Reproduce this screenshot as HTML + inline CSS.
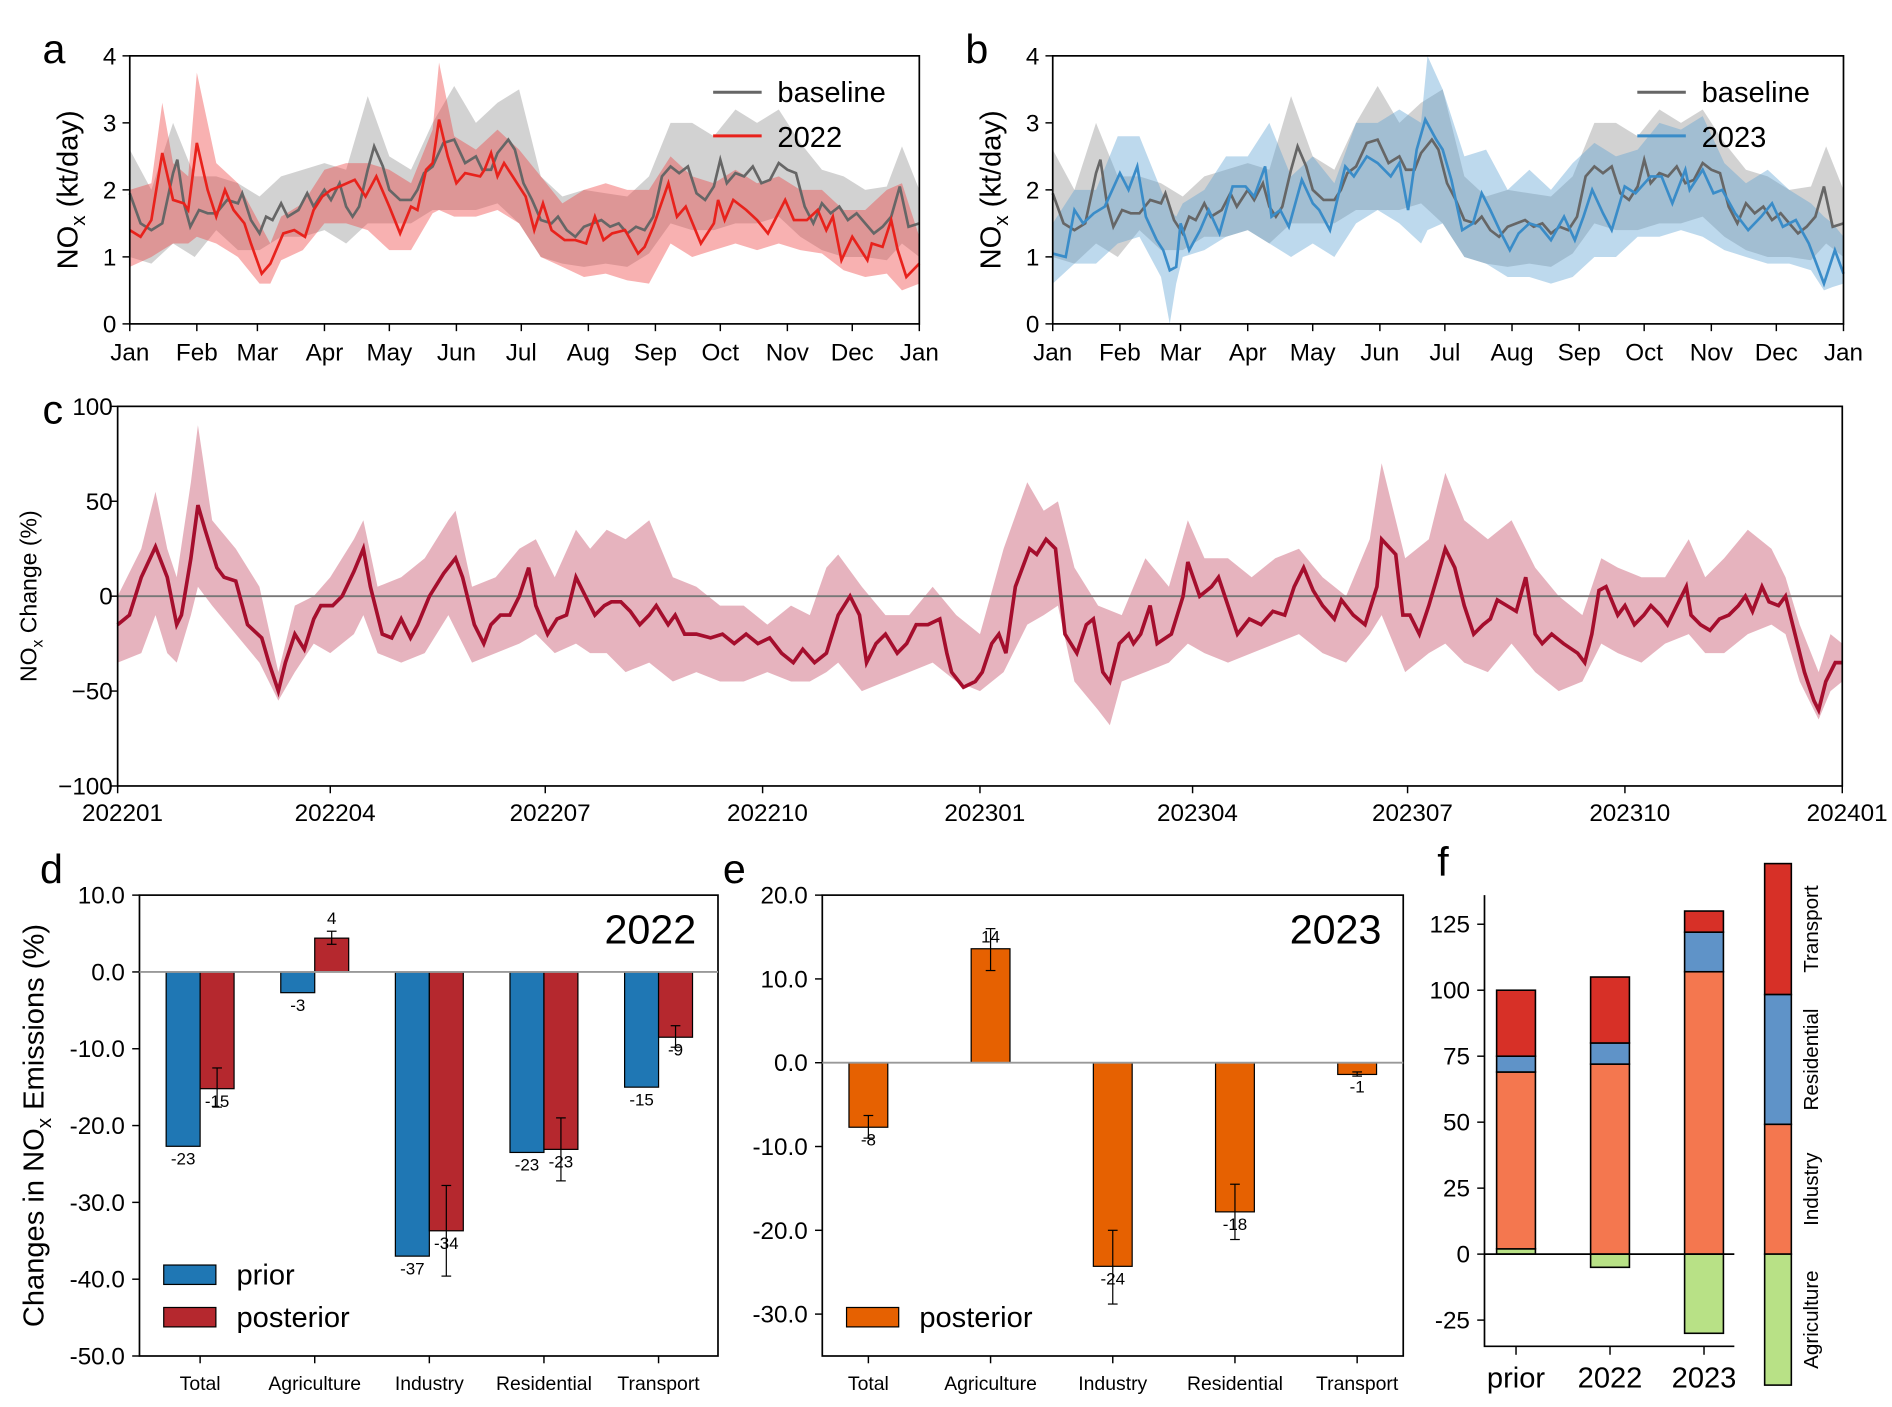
<!DOCTYPE html>
<html><head><meta charset="utf-8"><style>
html,body{margin:0;padding:0;background:#fff}
svg{display:block;font-family:"Liberation Sans",Arial,sans-serif}
</style></head><body>
<svg id="fig" width="1892" height="1407" viewBox="0 0 1560 1160" xmlns="http://www.w3.org/2000/svg">
<rect x="0" y="0" width="1560" height="1160" fill="#fff"/>
<g id="root"></g>
</svg>
<script>
// ---------- Panel a/b data (day of year, NOx kt/day) ----------
const baseDays=[0,5,10,15,20,22,25,28,32,36,40,45,50,52,56,60,63,66,70,73,78,82,85,90,93,97,100,103,106,110,113,117,120,125,130,133,136,140,145,150,155,160,163,167,170,175,178,182,186,190,195,198,202,206,210,214,218,222,226,230,234,238,242,246,250,254,258,262,266,270,273,276,280,284,288,292,296,300,304,308,312,316,320,324,328,332,336,340,344,348,352,356,360,365];
const baseVal=[1.95,1.5,1.4,1.5,2.25,2.45,1.8,1.45,1.7,1.65,1.65,1.85,1.8,1.95,1.55,1.35,1.6,1.55,1.8,1.6,1.7,1.95,1.75,2.0,1.85,2.1,1.75,1.6,1.75,2.3,2.65,2.35,2.0,1.85,1.85,2.0,2.25,2.35,2.7,2.75,2.4,2.5,2.3,2.3,2.55,2.75,2.6,2.1,1.85,1.55,1.5,1.6,1.4,1.3,1.45,1.5,1.55,1.45,1.5,1.35,1.45,1.4,1.6,2.2,2.35,2.25,2.35,1.95,1.85,2.05,2.45,2.1,2.25,2.2,2.35,2.1,2.15,2.4,2.3,2.25,1.75,1.5,1.8,1.65,1.75,1.55,1.65,1.5,1.35,1.45,1.6,2.05,1.45,1.5];
const baseBandDays=[0,10,20,30,40,50,60,70,80,90,100,110,120,130,140,150,160,170,180,190,200,210,220,230,240,250,260,270,280,290,300,310,320,330,340,350,357,365];
const baseUpper=[2.6,2.0,3.0,2.2,2.2,2.1,1.9,2.2,2.3,2.4,2.3,3.4,2.5,2.3,3.0,3.55,3.0,3.3,3.5,2.2,1.9,2.0,1.95,1.9,2.2,3.0,3.0,2.8,3.2,3.0,3.2,2.7,2.3,2.2,2.0,2.05,2.65,2.0];
const baseLower=[1.0,0.9,1.2,1.0,1.4,1.1,1.1,1.3,1.3,1.4,1.2,1.5,1.5,1.5,1.7,1.7,1.7,1.8,1.5,1.0,0.9,0.85,0.9,0.85,1.05,1.5,1.4,1.4,1.5,1.5,1.6,1.3,1.1,1.0,1.0,0.95,1.2,1.0];
const d22Days=[0,5,10,15,20,25,27,31,36,40,44,48,53,56,61,65,71,76,81,85,89,93,97,104,109,114,120,125,130,133,137,140,143,147,151,155,162,164,167,170,173,177,183,187,191,195,201,206,211,215,219,223,229,235,238,242,249,253,257,264,270,272,275,279,285,290,295,303,307,313,318,322,325,329,334,338,341,343,348,352,355,359,365];
const d22Val=[1.4,1.3,1.55,2.55,1.85,1.8,1.7,2.7,2.0,1.6,2.0,1.7,1.5,1.2,0.75,0.9,1.35,1.4,1.3,1.7,1.9,2.0,2.05,2.15,1.9,2.2,1.75,1.35,1.75,1.7,2.3,2.4,3.05,2.5,2.1,2.25,2.2,2.3,2.55,2.2,2.4,2.2,1.9,1.4,1.8,1.4,1.25,1.25,1.2,1.6,1.25,1.35,1.4,1.05,1.15,1.45,2.1,1.6,1.75,1.2,1.5,1.85,1.55,1.85,1.7,1.55,1.35,1.85,1.55,1.55,1.7,1.4,1.6,0.95,1.3,1.1,0.95,1.2,1.15,1.55,1.1,0.7,0.9];
const d22BandDays=[0,10,15,20,27,31,40,50,60,65,70,80,90,100,110,120,130,140,143,150,160,170,180,190,200,210,220,230,240,250,260,270,280,290,300,310,320,330,340,350,357,365];
const d22Upper=[2.0,2.1,3.3,2.4,2.2,3.75,2.4,2.1,1.5,1.2,1.6,1.8,2.3,2.4,2.4,2.3,2.1,2.9,3.9,2.8,2.6,2.9,2.6,2.2,1.8,2.0,2.1,2.0,2.0,2.5,2.2,2.1,2.3,2.1,2.2,2.0,2.0,1.7,1.7,2.0,2.1,1.3];
const d22Lower=[0.85,1.0,1.1,1.2,1.2,1.3,1.2,1.0,0.6,0.6,0.95,1.1,1.5,1.5,1.4,1.1,1.1,1.65,1.7,1.6,1.6,1.7,1.5,1.0,0.85,0.7,0.75,0.65,0.6,1.2,1.0,1.1,1.2,1.1,1.2,1.1,1.05,0.8,0.7,0.75,0.5,0.6];
const d23Days=[0,6,10,14,19,24,31,35,39,43,48,51,54,57,59,63,68,72,77,83,89,93,98,101,105,109,115,120,123,128,135,139,145,150,156,160,164,168,172,177,180,184,189,194,198,202,207,211,215,220,225,230,236,241,245,249,254,258,264,269,276,281,286,292,294,300,305,309,315,321,327,332,337,343,349,356,361,365];
const d23Val=[1.05,1.0,1.7,1.5,1.65,1.75,2.25,2.0,2.35,1.6,1.25,1.1,0.8,0.85,1.5,1.1,1.4,1.7,1.35,2.05,2.05,1.9,2.35,1.6,1.7,1.45,2.15,1.8,1.7,1.4,2.35,2.2,2.5,2.4,2.2,2.4,1.7,2.6,3.05,2.75,2.6,2.15,1.4,1.5,1.95,1.7,1.35,1.1,1.35,1.5,1.45,1.25,1.6,1.25,1.6,2.0,1.65,1.4,2.05,1.95,2.2,2.2,1.8,2.3,2.0,2.3,1.95,2.0,1.65,1.4,1.6,1.8,1.45,1.55,1.2,0.6,1.1,0.75];
const d23BandDays=[0,10,20,30,40,50,54,57,60,70,80,90,100,110,120,130,140,150,160,170,173,180,190,200,210,220,230,240,250,260,270,280,290,300,310,320,330,340,350,356,360,365];
const d23Upper=[1.5,2.0,2.0,2.8,2.8,2.0,1.7,1.6,1.8,2.0,2.5,2.5,3.0,2.2,2.5,2.1,3.0,3.0,3.2,3.0,4.0,3.5,2.5,2.6,2.0,2.3,2.0,2.4,2.7,2.5,2.6,3.0,2.9,3.1,2.4,2.1,2.3,2.0,1.8,1.6,1.5,1.3];
const d23Lower=[0.6,0.9,0.9,1.2,1.3,0.7,0.0,0.6,1.0,1.1,1.3,1.4,1.2,1.0,1.2,1.0,1.5,1.7,1.5,1.2,1.4,1.5,1.0,0.9,0.7,0.7,0.6,0.7,1.0,1.0,1.3,1.3,1.4,1.3,1.1,1.0,0.9,0.9,0.8,0.5,0.55,0.6];
const monthDays=[0,31,59,90,120,151,181,212,243,273,304,334,365];
const monthLabels=["Jan","Feb","Mar","Apr","May","Jun","Jul","Aug","Sep","Oct","Nov","Dec","Jan"];
const abTicks=[0,1,2,3,4];

// ---------- Panel c data (days since 2022-01-01, % change) ----------
const cDays=[0,5,10,16,21,25,27,31,34,37,42,45,50,55,61,64,68,71,75,79,83,86,91,95,100,104,107,112,116,120,124,127,132,138,143,146,151,155,158,162,166,170,174,177,182,186,190,194,198,202,206,209,213,217,221,225,228,233,236,240,245,251,256,261,266,271,276,281,286,290,295,300,305,310,314,317,321,325,330,334,338,343,348,351,353,358,363,366,370,373,376,380,386,389,393,397,401,406,410,413,417,420,424,428,430,433,437,440,446,451,453,458,463,466,470,474,479,484,489,494,498,502,506,510,515,518,523,528,533,535,541,544,547,551,555,559,562,566,570,574,578,581,584,588,592,596,600,603,607,612,618,621,624,627,630,635,638,642,646,649,653,656,660,664,666,670,674,678,682,686,689,692,696,699,703,706,709,714,718,720,723,727,730];
const cVal=[-15,-10,10,26,10,-15,-10,20,48,35,15,10,8,-15,-22,-35,-50,-35,-20,-28,-12,-5,-5,0,13,25,5,-20,-22,-12,-22,-15,0,12,20,10,-15,-25,-15,-10,-10,0,15,-5,-20,-12,-10,10,0,-10,-5,-3,-3,-8,-15,-10,-5,-15,-10,-20,-20,-22,-20,-25,-20,-25,-22,-30,-35,-28,-35,-30,-10,0,-10,-35,-25,-20,-30,-25,-15,-15,-12,-30,-40,-48,-45,-40,-25,-20,-30,5,25,22,30,25,-20,-30,-15,-12,-40,-45,-25,-20,-25,-20,-5,-25,-20,0,18,0,5,10,-5,-20,-12,-15,-8,-10,5,15,3,-5,-12,-2,-10,-15,5,30,22,-10,-10,-20,-5,12,25,15,-5,-20,-15,-12,-2,-5,-8,10,-20,-25,-20,-25,-30,-35,-20,3,5,-10,-5,-15,-10,-5,-10,-15,-5,5,-10,-15,-18,-12,-10,-5,0,-8,5,-3,-5,0,-15,-40,-55,-60,-45,-35,-35];
const cUpDays=[0,10,16,21,25,31,34,40,50,60,68,75,83,90,100,104,110,120,130,140,143,150,160,170,177,185,194,200,207,215,225,235,245,255,265,275,285,293,300,305,315,325,335,345,355,365,375,385,392,398,405,415,425,435,445,453,460,470,480,490,500,510,520,530,535,545,555,562,570,580,590,600,610,620,628,635,645,655,665,672,680,690,700,706,712,720,725,730];
const cUpper=[0,25,55,25,10,60,90,40,25,5,-40,-5,0,10,30,40,5,10,20,40,45,5,10,25,30,10,35,25,35,30,40,10,5,-5,-5,-15,-5,-10,15,22,5,-10,-10,5,-10,-20,25,60,45,50,15,-5,-10,20,5,40,20,20,10,20,25,10,0,30,70,20,30,65,40,30,40,15,0,-10,20,15,10,10,30,10,20,35,25,10,-15,-40,-20,-25];
const cLoDays=[0,10,16,21,25,31,34,40,50,60,68,75,83,90,100,104,110,120,130,140,150,160,170,177,185,194,200,207,215,225,235,245,255,265,275,285,293,300,305,315,325,335,345,355,365,375,385,392,398,405,415,420,425,435,445,453,460,470,480,490,500,510,520,530,535,545,555,562,570,580,590,600,610,620,628,635,645,655,665,672,680,690,700,706,712,720,725,730];
const cLower=[-35,-30,-10,-30,-35,-10,5,-5,-20,-35,-55,-40,-25,-30,-20,-10,-30,-35,-30,-10,-35,-30,-25,-20,-30,-25,-30,-30,-40,-35,-45,-40,-45,-45,-40,-45,-45,-40,-35,-50,-45,-40,-35,-45,-50,-40,-15,-10,-5,-45,-60,-68,-45,-40,-35,-25,-30,-35,-30,-25,-20,-30,-35,-20,-10,-40,-30,-25,-35,-40,-25,-40,-50,-45,-25,-30,-35,-25,-20,-30,-30,-20,-15,-20,-45,-65,-50,-45];
const cTicks=[-100,-50,0,50,100];
const cTickLabels=["\u2212100","\u221250","0","50","100"];
const cXDays=[0,90,181,273,365,455,546,638,730];
const cXLabels=["202201","202204","202207","202210","202301","202304","202307","202310","202401"];

// ---------- Panel d/e/f data ----------
const sectors=["Total","Agriculture","Industry","Residential","Transport"];
const dPrior=[-22.7,-2.7,-37.0,-23.5,-15.0];
const dPost=[-15.2,4.4,-33.7,-23.1,-8.5];
const dPostLo=[-17.6,3.6,-39.6,-27.2,-9.8];
const dPostHi=[-12.5,5.3,-27.8,-19.0,-7.0];
const dPriorLabels=["-23","-3","-37","-23","-15"];
const dPostLabels=["-15","4","-34","-23","-9"];
const dTicks=[10,0,-10,-20,-30,-40,-50];
const ePost=[-7.7,13.6,-24.3,-17.8,-1.4];
const ePostLo=[-9.0,11.0,-28.8,-21.1,-1.6];
const ePostHi=[-6.3,16.0,-20.0,-14.5,-1.1];
const eLabels=["-8","14","-24","-18","-1"];
const eTicks=[20,10,0,-10,-20,-30];
const fCats=["prior","2022","2023"];
const fAgri=[2,-5,-30];
const fIndustry=[67,72,107];
const fResidential=[6,8,15];
const fTransport=[25,25,8];
const fTicks=[-25,0,25,50,75,100,125];

// ---------- helpers ----------
const NS="http://www.w3.org/2000/svg";
const root=document.getElementById('root');
function mk(tag,attrs,parent){const e=document.createElementNS(NS,tag);for(const k in attrs)e.setAttribute(k,attrs[k]);(parent||root).appendChild(e);return e;}
function lin(d0,d1,r0,r1){return v=>r0+(v-d0)*(r1-r0)/(d1-d0);}
function linePath(xs,ys,X,Y){return xs.map((d,i)=>(i?'L':'M')+X(d).toFixed(1)+','+Y(ys[i]).toFixed(1)).join('');}
function bandPath(ud,uv,ld,lv,X,Y){let p=ud.map((d,i)=>(i?'L':'M')+X(d).toFixed(1)+','+Y(uv[i]).toFixed(1)).join('');for(let i=ld.length-1;i>=0;i--)p+='L'+X(ld[i]).toFixed(1)+','+Y(lv[i]).toFixed(1);return p+'Z';}
function txt(x,y,s,size,anchor,parent){const t=mk('text',{x:x,y:y,'font-size':size,'text-anchor':anchor||'middle',fill:'#000'},parent);t.textContent=s;return t;}

// ---------- panel a & b ----------
function tsPanel(L,R,T,B,letter,lineDays,lineVal,bDays,bUp,bLo,bandFill,lineColor,yearLabel,name){
  const g=mk('g',{});
  
  
  const X=lin(0,365,L,R),Y=lin(0,4,B,T);
  const gb=mk('path',{d:bandPath(baseBandDays,baseUpper,baseBandDays,baseLower,X,Y),fill:'#b4b4b4','fill-opacity':0.6,stroke:'none'},g);
  
  
  const yb=mk('path',{d:bandPath(bDays,bUp,bDays,bLo,X,Y),fill:bandFill,'fill-opacity':0.4,stroke:'none'},g);
  
  
  const bl=mk('path',{d:linePath(baseDays,baseVal,X,Y),fill:'none',stroke:'#666','stroke-width':2.2},g);
  
  
  const yl=mk('path',{d:linePath(lineDays,lineVal,X,Y),fill:'none',stroke:lineColor,'stroke-width':2.2},g);
  
  
  const fr=mk('rect',{x:L,y:T,width:R-L,height:B-T,fill:'none',stroke:'#000','stroke-width':1.4},g);
  
  
  abTicks.forEach(v=>{mk('line',{x1:L-6,x2:L,y1:Y(v),y2:Y(v),stroke:'#000','stroke-width':1.2},g);const t=txt(L-11,Y(v)+7,String(v),20,'end',g);});
  monthDays.forEach((d,i)=>{mk('line',{x1:X(d),x2:X(d),y1:B,y2:B+6,stroke:'#000','stroke-width':1.2},g);const t=txt(X(d),B+30,monthLabels[i],20,'middle',g);});
  const yt=mk('text',{x:0,y:0,'font-size':24,'text-anchor':'middle',transform:`translate(${L-43},${(T+B)/2}) rotate(-90)`},g);
  yt.innerHTML='NO<tspan font-size="17" dy="6">x</tspan><tspan dy="-6"> (kt/day)</tspan>';
  
  
  const lt=txt(L-72,T+6,letter,34,'start',g);
  
  
  const lg=mk('g',{},g);
  
  
  mk('line',{x1:R-170,x2:R-130,y1:T+30,y2:T+30,stroke:'#666','stroke-width':2.5},lg);
  const l1=txt(R-117,T+38,'baseline',24,'start',lg);
  
  
  mk('line',{x1:R-170,x2:R-130,y1:T+66,y2:T+66,stroke:lineColor,'stroke-width':2.5},lg);
  const l2=txt(R-117,T+75,yearLabel,24,'start',lg);
  
  
}
tsPanel(107,758,46,267,'a',d22Days,d22Val,d22BandDays,d22Upper,d22Lower,'#ee3b3b','#e8221c','2022','panel-a-2022-timeseries');
tsPanel(868,1520,46,267,'b',d23Days,d23Val,d23BandDays,d23Upper,d23Lower,'#5aa0d2','#3a8cc8','2023','panel-b-2023-timeseries');

// ---------- panel c ----------
(function(){
  const L=97,R=1519,T=335,B=648;
  const g=mk('g',{});
  
  
  const X=lin(0,730,L,R),Y=lin(-100,100,B,T);
  const band=mk('path',{d:bandPath(cUpDays,cUpper,cLoDays,cLower,X,Y),fill:'#c8576f','fill-opacity':0.45,stroke:'none'},g);
  
  
  const zl=mk('line',{x1:L,x2:R,y1:Y(0),y2:Y(0),stroke:'#777','stroke-width':1.5},g);
  
  
  const ln=mk('path',{d:linePath(cDays,cVal,X,Y),fill:'none',stroke:'#a50e2d','stroke-width':3},g);
  
  
  const fr=mk('rect',{x:L,y:T,width:R-L,height:B-T,fill:'none',stroke:'#000','stroke-width':1.4},g);
  
  
  cTicks.forEach((v,i)=>{mk('line',{x1:L-6,x2:L,y1:Y(v),y2:Y(v),stroke:'#000','stroke-width':1.2},g);const t=txt(L-4,Y(v)+7,cTickLabels[i],20,'end',g);});
  cXDays.forEach((d,i)=>{mk('line',{x1:X(d),x2:X(d),y1:B,y2:B+6,stroke:'#000','stroke-width':1.2},g);const t=txt(X(d)+4,B+29,cXLabels[i],20,'middle',g);});
  const yt=mk('text',{x:0,y:0,'font-size':19,'text-anchor':'middle',transform:`translate(${30},${(T+B)/2}) rotate(-90)`},g);
  yt.innerHTML='NO<tspan font-size="13" dy="5">x</tspan><tspan dy="-5"> Change (%)</tspan>';
  
  
  const lt=txt(35,349,'c',34,'start',g);
  
  
})();

// ---------- panel d / e ----------
function barPanel(L,R,T,B,ymax,ymin,ticks,cx0,dx,letter,yearText,name){
  const g=mk('g',{});
  
  
  const Y=lin(ymin,ymax,B,T);
  const fr=mk('rect',{x:L,y:T,width:R-L,height:B-T,fill:'none',stroke:'#000','stroke-width':1.4},g);
  
  
  ticks.forEach(v=>{mk('line',{x1:L-6,x2:L,y1:Y(v),y2:Y(v),stroke:'#000','stroke-width':1.2},g);const t=txt(L-12,Y(v)+7,v.toFixed(1),20,'end',g);});
  sectors.forEach((s,i)=>{const x=cx0+dx*i;mk('line',{x1:x,x2:x,y1:B,y2:B+6,stroke:'#000','stroke-width':1.2},g);const t=txt(x,B+28,s,16,'middle',g);});
  const yr=txt(R-18,T+40,yearText,34,'end',g);
  
  
  const lt=txt(L-82,T-10,letter,34,'start',g);
  
  
  return {g,Y};
}
function bar(g,x,w,v,Y,fill,nm){const y0=Y(0),y1=Y(v);const r=mk('rect',{x:x-w/2,y:Math.min(y0,y1),width:w,height:Math.abs(y1-y0),fill:fill,stroke:'#000','stroke-width':1},g);return r;}
function errbar(g,x,lo,hi,Y){const e=mk('g',{},g);mk('line',{x1:x,x2:x,y1:Y(lo),y2:Y(hi),stroke:'#000','stroke-width':1},e);mk('line',{x1:x-4,x2:x+4,y1:Y(lo),y2:Y(lo),stroke:'#000','stroke-width':1},e);mk('line',{x1:x-4,x2:x+4,y1:Y(hi),y2:Y(hi),stroke:'#000','stroke-width':1},e);}
function vlabel(g,x,v,s,Y){const y=v<0?Y(v)+15:Y(v)-6;const t=txt(x,y,s,14,'middle',g);}

(function(){
  const L=115,R=592,T=738,B=1118;
  const {g,Y}=barPanel(L,R,T,B,10,-50,dTicks,165,94.5,'d','2022','panel-d-2022-emission-changes');
  sectors.forEach((s,i)=>{
    const cx=165+94.5*i;
    bar(g,cx-14,28,dPrior[i],Y,'#1f77b4','bar-prior-'+s.toLowerCase());
    bar(g,cx+14,28,dPost[i],Y,'#b5282e','bar-posterior-'+s.toLowerCase());
  });
  const zl=mk('line',{x1:L,x2:R,y1:Y(0),y2:Y(0),stroke:'#999','stroke-width':1.5},g);
  
  
  sectors.forEach((s,i)=>{
    const cx=165+94.5*i;
    errbar(g,cx+14,dPostLo[i],dPostHi[i],Y);
    vlabel(g,cx-14,dPrior[i],dPriorLabels[i],Y);
    vlabel(g,cx+14,Math.max(dPost[i],dPostHi[i])>0?dPostHi[i]:dPost[i],dPostLabels[i],Y);
  });
  const lg=mk('g',{},g);
  
  
  mk('rect',{x:135,y:1043,width:43,height:16,fill:'#1f77b4',stroke:'#000','stroke-width':1},lg);
  const l1=txt(195,1059,'prior',24,'start',lg);
  
  
  mk('rect',{x:135,y:1078,width:43,height:16,fill:'#b5282e',stroke:'#000','stroke-width':1},lg);
  const l2=txt(195,1094,'posterior',24,'start',lg);
  
  
  const yt=mk('text',{x:0,y:0,'font-size':24,'text-anchor':'middle',transform:`translate(36,${(T+B)/2}) rotate(-90)`},g);
  yt.innerHTML='Changes in NO<tspan font-size="17" dy="6">x</tspan><tspan dy="-6"> Emissions (%)</tspan>';
  
  
})();

(function(){
  const L=678,R=1157,T=738,B=1118;
  const {g,Y}=barPanel(L,R,T,B,20,-35,eTicks,716,100.75,'e','2023','panel-e-2023-emission-changes');
  sectors.forEach((s,i)=>{bar(g,716+100.75*i,32,ePost[i],Y,'#e66101','bar-posterior-'+s.toLowerCase());});
  const zl=mk('line',{x1:L,x2:R,y1:Y(0),y2:Y(0),stroke:'#999','stroke-width':1.5},g);
  
  
  sectors.forEach((s,i)=>{const cx=716+100.75*i;errbar(g,cx,ePostLo[i],ePostHi[i],Y);vlabel(g,cx,ePost[i]>0?ePostHi[i]-2.5:ePost[i],eLabels[i],Y);});
  const lg=mk('g',{},g);
  
  
  mk('rect',{x:698,y:1078,width:43,height:16,fill:'#e66101',stroke:'#000','stroke-width':1},lg);
  const l1=txt(758,1094,'posterior',24,'start',lg);
  
  
})();

// ---------- panel f ----------
(function(){
  const L=1224,R=1430,T=738,B=1110;
  const g=mk('g',{});
  
  
  const Y=lin(0,125,1034,762);
  const cols={agri:'#b8e186',ind:'#f4774f',res:'#5f93c8',tra:'#d73027'};
  fCats.forEach((c,i)=>{
    const cx=1250+77.5*i,w=32;
    const seg=(lo,hi,fill,nm)=>{const r=mk('rect',{x:cx-w/2,y:Y(Math.max(lo,hi)),width:w,height:Math.abs(Y(lo)-Y(hi)),fill:fill,stroke:'#000','stroke-width':1.3},g);};
    const a=fAgri[i];
    const base=a>0?a:0;
    seg(0,a,cols.agri,'stack-agriculture-'+c);
    seg(base,base+fIndustry[i],cols.ind,'stack-industry-'+c);
    const r0=base+fIndustry[i];
    seg(r0,r0+fResidential[i],cols.res,'stack-residential-'+c);
    const t0=r0+fResidential[i];
    seg(t0,t0+fTransport[i],cols.tra,'stack-transport-'+c);
    mk('line',{x1:cx,x2:cx,y1:B,y2:B+7,stroke:'#000','stroke-width':1.2},g);
    const t=txt(cx,B+34,c,24,'middle',g);
    
    
  });
  const zl=mk('line',{x1:L,x2:R,y1:Y(0),y2:Y(0),stroke:'#000','stroke-width':1.5},g);
  
  
  const ax=mk('path',{d:`M${L},${T}L${L},${B}L${R},${B}`,fill:'none',stroke:'#000','stroke-width':1.4},g);
  
  
  fTicks.forEach(v=>{mk('line',{x1:L-6,x2:L,y1:Y(v),y2:Y(v),stroke:'#000','stroke-width':1.2},g);const t=txt(L-12,Y(v)+7,String(v),20,'end',g);});
  const lt=txt(1185,722,'f',34,'start',g);
  
  
  // sector key
  const kg=mk('g',{},g);
  
  
  const keys=[['Transport',cols.tra,712,820],['Residential',cols.res,820,927],['Industry',cols.ind,927,1034],['Agriculture',cols.agri,1034,1142]];
  keys.forEach(k=>{
    const r=mk('rect',{x:1455,y:k[2],width:22,height:k[3]-k[2],fill:k[1],stroke:'#000','stroke-width':1.3},kg);
    
    
    const t=mk('text',{x:0,y:0,'font-size':17,'text-anchor':'middle',transform:`translate(1499,${(k[2]+k[3])/2}) rotate(-90)`},kg);
    t.textContent=k[0];
    
    
  });
})();
</script>
</body></html>
